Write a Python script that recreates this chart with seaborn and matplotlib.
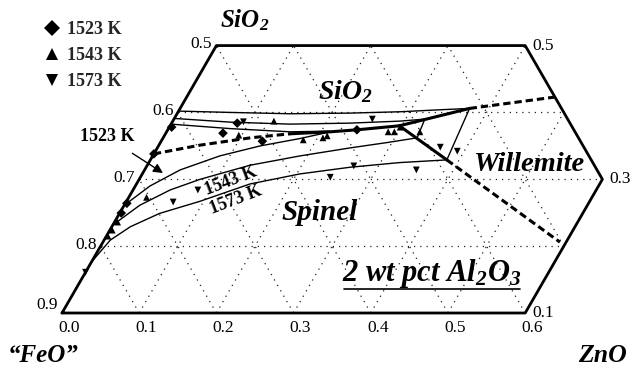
import numpy as np
import pandas as pd
import matplotlib
matplotlib.use("Agg")
import matplotlib.pyplot as plt
import seaborn as sns
from matplotlib.lines import Line2D

sns.set_theme(style="white")
plt.rcParams['font.family'] = ['Liberation Serif', 'DejaVu Serif']
plt.rcParams['mathtext.fontset'] = 'custom'
plt.rcParams['mathtext.rm'] = 'Liberation Serif:bold:italic'
plt.rcParams['mathtext.it'] = 'Liberation Serif:bold:italic'
plt.rcParams['mathtext.bf'] = 'Liberation Serif:bold:italic'

# ---------------- data (mass fractions: ZnO, SiO2; FeO = balance) ----------------
outline_zno = [0.0, 0.0, 0.4, 0.6, 0.6, 0.0]
outline_sio2 = [0.1, 0.5, 0.5, 0.3, 0.1, 0.1]

grid_sio2 = [0.2, 0.3, 0.4]
grid_zno = [0.1, 0.2, 0.3, 0.4, 0.5]
grid_feo = [0.2, 0.3, 0.4, 0.5, 0.6, 0.7, 0.8]

left_ticks = [0.9, 0.8, 0.7, 0.6, 0.5]          # FeO on left edge
right_ticks = [0.5, 0.3, 0.1]                    # SiO2 on right side
right_ticks_zno = [0.4, 0.6, 0.6]
bottom_ticks = [0.0, 0.1, 0.2, 0.3, 0.4, 0.5, 0.6]  # ZnO on bottom edge

# isotherms, SiO2 primary field
iso1573_sio2_zno = [0.000, 0.068, 0.146, 0.224, 0.287, 0.338, 0.375]
iso1573_sio2_sio2 = [0.402, 0.400, 0.398, 0.399, 0.401, 0.404, 0.406]
iso1543_sio2_zno = [0.000, 0.075, 0.154, 0.231, 0.294, 0.325]
iso1543_sio2_sio2 = [0.391, 0.3855, 0.3825, 0.384, 0.387, 0.390]
iso1523_sio2_zno = [0.000, 0.080, 0.160, 0.211]
iso1523_sio2_sio2 = [0.3825, 0.3758, 0.371, 0.372]
# isotherms, willemite field
iso1573_wil_zno = [0.375, 0.384]
iso1573_wil_sio2 = [0.406, 0.329]
iso1543_wil_zno = [0.325, 0.329]
iso1543_wil_sio2 = [0.390, 0.362]
# isotherms, spinel field
iso1573_spl_zno = [0.000, 0.008, 0.024, 0.052, 0.095, 0.147, 0.204, 0.264, 0.325, 0.384]
iso1573_spl_sio2 = [0.176, 0.209, 0.229, 0.249, 0.267, 0.293, 0.308, 0.318, 0.325, 0.329]
iso1543_spl_zno = [0.000, 0.020, 0.048, 0.079, 0.133, 0.191, 0.250, 0.294, 0.329]
iso1543_spl_sio2 = [0.2315, 0.261, 0.284, 0.300, 0.321, 0.335, 0.347, 0.355, 0.362]
iso1523_spl_zno = [0.000, 0.019, 0.046, 0.087, 0.132, 0.178, 0.212]
iso1523_spl_sio2 = [0.261, 0.290, 0.314, 0.335, 0.350, 0.361, 0.371]

# primary-phase field boundaries
bnd_qs_dash_zno = [0.000, 0.053, 0.113, 0.161]
bnd_qs_dash_sio2 = [0.338, 0.351, 0.362, 0.368]
bnd_qs_solid_zno = [0.161, 0.212, 0.245, 0.297]
bnd_qs_solid_sio2 = [0.368, 0.371, 0.374, 0.380]
bnd_qw_solid_zno = [0.297, 0.375]
bnd_qw_solid_sio2 = [0.380, 0.406]
bnd_qw_dash_zno = [0.375, 0.477]
bnd_qw_dash_sio2 = [0.406, 0.423]
bnd_sw_solid_zno = [0.297, 0.384]
bnd_sw_solid_sio2 = [0.380, 0.329]
bnd_sw_dash_zno = [0.384, 0.592]
bnd_sw_dash_sio2 = [0.329, 0.206]

# experimental points
pts_1523_zno = [0.003, 0.000, 0.002, 0.002, 0.074, 0.085, 0.131, 0.245]
pts_1523_sio2 = [0.378, 0.338, 0.264, 0.2495, 0.369, 0.384, 0.357, 0.374]
pts_1543_zno = [0.004, 0.003, 0.002, 0.023, 0.096, 0.131, 0.183, 0.207, 0.211, 0.287, 0.295, 0.299, 0.328]
pts_1543_sio2 = [0.236, 0.224, 0.215, 0.273, 0.366, 0.387, 0.359, 0.362, 0.365, 0.371, 0.371, 0.378, 0.371]
pts_1573_zno = [0.000, 0.061, 0.084, 0.092, 0.246, 0.257, 0.268, 0.352, 0.366, 0.391]
pts_1573_sio2 = [0.161, 0.266, 0.284, 0.386, 0.303, 0.390, 0.320, 0.314, 0.348, 0.342]
temps = ['1523 K', '1543 K', '1573 K']

# ---------------- helpers ----------------
S3 = np.sqrt(3) / 2


def tern(zno, sio2):
    zno = np.asarray(zno, float)
    sio2 = np.asarray(sio2, float)
    return zno + sio2 / 2, sio2 * S3


def P(x, y):
    """pixel position -> data coords (text placement only)"""
    return 0.05 + (x - 62) / 772, 0.1 * S3 + (313 - y) / 772


fig = plt.figure(figsize=(6.33, 3.72), dpi=100)
ax = fig.add_axes([0, 0, 1, 1])
ax.set_xlim(P(0, 0)[0], P(633, 0)[0])
ax.set_ylim(P(0, 372)[1], P(0, 0)[1])
ax.set_aspect('auto')
ax.axis('off')

DOT = (0, (1, 4))


def line(zno, sio2, lw=1.0, ls='-', color='black', z=3):
    X, Y = tern(zno, sio2)
    df = pd.DataFrame({'X': X, 'Y': Y})
    sns.lineplot(data=df, x='X', y='Y', sort=False, estimator=None, color=color,
                 linewidth=lw, linestyle=ls, ax=ax, zorder=z, legend=False)


# grid
for s in grid_sio2:
    zr = 0.9 - s if s >= 0.3 else 0.6
    line([0, zr], [s, s], lw=0.9, ls=DOT, color='#222222', z=1)
for c in grid_zno:
    line([c, c], [0.1, min(0.5, 0.9 - c)], lw=0.9, ls=DOT, color='#222222', z=1)
for f in grid_feo:
    s0, s1 = max(0.1, 0.4 - f), min(0.5, 1 - f)
    line([1 - f - s0, 1 - f - s1], [s0, s1], lw=0.9, ls=DOT, color='#222222', z=1)

# outline
line(outline_zno, outline_sio2, lw=2.0, z=4)

# isotherms
for zz, ss in [(iso1573_sio2_zno, iso1573_sio2_sio2), (iso1543_sio2_zno, iso1543_sio2_sio2),
               (iso1523_sio2_zno, iso1523_sio2_sio2), (iso1573_wil_zno, iso1573_wil_sio2),
               (iso1543_wil_zno, iso1543_wil_sio2), (iso1573_spl_zno, iso1573_spl_sio2),
               (iso1543_spl_zno, iso1543_spl_sio2), (iso1523_spl_zno, iso1523_spl_sio2)]:
    line(zz, ss, lw=1.0)

DASH = (0, (2.4, 1.3))
line(bnd_qs_dash_zno, bnd_qs_dash_sio2, lw=2.2, ls=DASH)
line(bnd_qs_solid_zno, bnd_qs_solid_sio2, lw=2.2)
line(bnd_qw_solid_zno, bnd_qw_solid_sio2, lw=2.2)
line(bnd_qw_dash_zno, bnd_qw_dash_sio2, lw=2.2, ls=DASH)
line(bnd_sw_solid_zno, bnd_sw_solid_sio2, lw=2.2)
line(bnd_sw_dash_zno, bnd_sw_dash_sio2, lw=2.2, ls=DASH)

# points
rows = []
for t, zz, ss in zip(temps, [pts_1523_zno, pts_1543_zno, pts_1573_zno],
                     [pts_1523_sio2, pts_1543_sio2, pts_1573_sio2]):
    X, Y = tern(zz, ss)
    rows.append(pd.DataFrame({'X': X, 'Y': Y, 'T': t}))
pts = pd.concat(rows, ignore_index=True)
sns.scatterplot(data=pts, x='X', y='Y', style='T', style_order=temps,
                markers={'1523 K': 'D', '1543 K': '^', '1573 K': 'v'},
                color='black', edgecolor='black', linewidth=0, s=24, ax=ax, zorder=5)
h, l = ax.get_legend_handles_labels()
for hh in h:
    hh.set_markersize(8)
    hh.set_color('black')
ax.legend(h, l, loc='upper left', bbox_to_anchor=(44 / 633, 1 - 21 / 372), frameon=False,
          prop={'weight': 'bold', 'size': 13}, handlelength=0.9, handletextpad=0.35,
          borderaxespad=0, borderpad=0, labelspacing=0.5)

# tick labels
TK = dict(fontsize=12.5, color='black')
for f in left_ticks:
    x, y = tern(0, 1 - f)
    dy = 6 if f == 0.9 else 1
    ax.annotate(f'{f:.1f}', (x, y), xytext=(-3, dy), textcoords='offset points',
                ha='right', va='center', **TK)
for s, zr in zip(right_ticks, right_ticks_zno):
    x, y = tern(zr, s)
    ax.annotate(f'{s:.1f}', (x, y), xytext=(5, 0), textcoords='offset points',
                ha='left', va='center', **TK)
for zv in bottom_ticks:
    x, y = tern(zv, 0.1)
    ax.annotate(f'{zv:.1f}', (x, y), xytext=(5, -11), textcoords='offset points',
                ha='center', va='center', **TK)

BI = dict(fontweight='bold', fontstyle='italic', color='black', ha='center', va='center')
ax.text(*P(245, 20), 'SiO$_2$', fontsize=18, **BI)
ax.text(*P(345, 92), 'SiO$_2$', fontsize=20, **BI)
ax.text(*P(529, 165), 'Willemite', fontsize=20.5, **BI)
ax.text(*P(320, 212), 'Spinel', fontsize=21, **BI)
al = ax.text(*P(432, 273), '2 wt pct Al$_2$O$_3$', fontsize=22, **BI)
ax.text(*P(43, 355), '\u201cFeO\u201d', fontsize=18, **BI)
ax.text(*P(602, 355), 'ZnO', fontsize=18.5, **BI)

LB = dict(fontweight='bold', color='black', fontsize=13)
ax.annotate('1523 K', xy=P(163, 173), xytext=P(107, 137), ha='center', va='center',
            arrowprops=dict(arrowstyle='-|>', color='black', lw=1.0, mutation_scale=14,
                            shrinkA=6, shrinkB=0), **LB)
ax.text(*P(231, 181), '1543 K', rotation=21, ha='center', va='center', **LB)
ax.text(*P(236, 200), '1573 K', rotation=21, ha='center', va='center', **LB)

fig.canvas.draw()
bb = al.get_window_extent()
fig.add_artist(Line2D([bb.x0 + 2, bb.x1 - 2], [bb.y0 + 1, bb.y0 + 1], color='black', lw=1.2,
                      transform=None))

fig.savefig('out.png', dpi=100, facecolor='white')
